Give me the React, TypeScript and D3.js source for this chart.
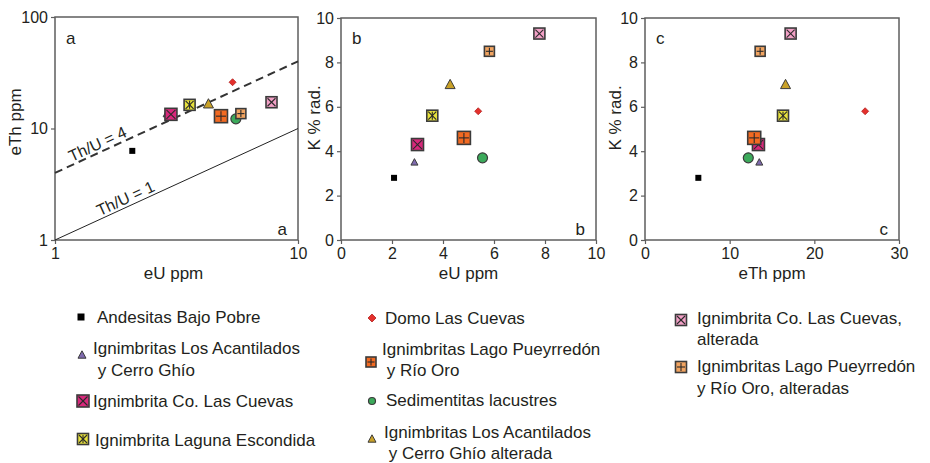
import React, { useRef, useEffect } from 'react'
import * as d3 from 'd3'

// sample groups, in legend order
const groups = [
  ['Andesitas Bajo Pobre'],
  ['Ignimbritas Los Acantilados', ' y Cerro Ghío'],
  ['Ignimbrita Co. Las Cuevas'],
  ['Ignimbrita Laguna Escondida'],
  ['Domo Las Cuevas'],
  ['Ignimbritas Lago Pueyrredón', ' y Río Oro'],
  ['Sedimentitas lacustres'],
  ['Ignimbritas Los Acantilados', ' y Cerro Ghío alterada'],
  ['Ignimbrita Co. Las Cuevas,', 'alterada'],
  ['Ignimbritas Lago Pueyrredón', 'y Río Oro, alteradas']
]

// values
const eU = [2.08, 2.88, 3.0, 3.58, 5.38, 4.82, 5.55, 4.28, 7.78, 5.82]
const eTh = [6.3, 13.5, 13.4, 16.3, 26.0, 12.9, 12.2, 16.6, 17.2, 13.6]
const kRad = [2.8, 3.5, 4.3, 5.6, 5.8, 4.6, 3.7, 7.0, 9.3, 8.5]

const logTicks = [1, 10, 100]
const eUTicks = [0, 2, 4, 6, 8, 10]
const eThTicks = [0, 10, 20, 30]
const kTicks = [0, 2, 4, 6, 8, 10]
const ratios = [4, 1]
const panelLetters = ['a', 'b', 'c']

const ink = '#231f20'
const frame = '#5e5e5e'
const font = "'Liberation Sans', Arial, sans-serif"

const markers = [
  { shape: 'square', fill: '#000000', size: 6, lsize: 7 },
  { shape: 'triangle', fill: '#7f6aae', size: 7, lsize: 8 },
  { shape: 'squareX', fill: '#d8287b', size: 12, lsize: 12 },
  { shape: 'squareStar', fill: '#e8e23c', size: 11, lsize: 11 },
  { shape: 'diamond', fill: '#e4302c', size: 7, lsize: 8 },
  { shape: 'squarePlus', fill: '#f26a22', size: 13, lsize: 10 },
  { shape: 'circle', fill: '#3caa5b', size: 10, lsize: 7 },
  { shape: 'triangle', fill: '#c9a128', size: 10, lsize: 8 },
  { shape: 'squareX', fill: '#f3a0c6', size: 11, lsize: 11 },
  { shape: 'squarePlus', fill: '#f1a461', size: 10, lsize: 11 }
]

// legend placement: marker centre, text start per line and line centres
const legendPos = [
  { mx: 81, my: 317, tx: [97], ty: [317] },
  { mx: 82, my: 355, tx: [93, 93], ty: [348, 370] },
  { mx: 83, my: 401, tx: [93], ty: [401] },
  { mx: 83, my: 439, tx: [95], ty: [440] },
  { mx: 372, my: 318, tx: [385], ty: [318] },
  { mx: 371, my: 362, tx: [382, 382], ty: [349, 370] },
  { mx: 372, my: 401, tx: [386], ty: [400] },
  { mx: 372, my: 439, tx: [384, 384], ty: [432, 453] },
  { mx: 681, my: 320, tx: [697, 697], ty: [318, 339] },
  { mx: 681, my: 367, tx: [697, 697], ty: [366, 388] }
]

function drawMarker(g, m, cx, cy, size) {
  const h = size / 2
  const edge = '#3b3b3b'
  if (m.shape === 'square') {
    g.append('rect').attr('x', cx - h).attr('y', cy - h).attr('width', size).attr('height', size).attr('fill', m.fill)
    return
  }
  if (m.shape === 'triangle') {
    g.append('path')
      .attr('d', `M${cx},${cy - h * 1.05}L${cx + h},${cy + h * 0.8}L${cx - h},${cy + h * 0.8}Z`)
      .attr('fill', m.fill).attr('stroke', edge).attr('stroke-width', 1)
    return
  }
  if (m.shape === 'diamond') {
    g.append('path')
      .attr('d', `M${cx},${cy - h}L${cx + h},${cy}L${cx},${cy + h}L${cx - h},${cy}Z`)
      .attr('fill', m.fill).attr('stroke', '#b3201d').attr('stroke-width', 0.8)
    return
  }
  if (m.shape === 'circle') {
    g.append('circle').attr('cx', cx).attr('cy', cy).attr('r', h)
      .attr('fill', m.fill).attr('stroke', edge).attr('stroke-width', 1.2)
    return
  }
  g.append('rect').attr('x', cx - h).attr('y', cy - h).attr('width', size).attr('height', size)
    .attr('fill', m.fill).attr('stroke', edge).attr('stroke-width', 1.6)
  const i = h - 1.5
  const lines = []
  if (m.shape === 'squareX' || m.shape === 'squareStar') {
    lines.push([cx - i, cy - i, cx + i, cy + i], [cx - i, cy + i, cx + i, cy - i])
  }
  if (m.shape === 'squareStar') lines.push([cx, cy - i, cx, cy + i])
  if (m.shape === 'squarePlus') {
    lines.push([cx, cy - i, cx, cy + i], [cx - i, cy, cx + i, cy])
  }
  lines.forEach((l) => {
    g.append('line').attr('x1', l[0]).attr('y1', l[1]).attr('x2', l[2]).attr('y2', l[3])
      .attr('stroke', '#2a2a2a').attr('stroke-width', 1.1)
  })
}

function styleAxis(a) {
  a.select('.domain').remove()
  a.selectAll('line').attr('stroke', frame).attr('stroke-width', 1.2)
  a.selectAll('text').attr('fill', ink).attr('font-size', 16).attr('font-family', font)
}

export default function App() {
  const canvas = useRef(null)

  useEffect(() => {
    document.body.style.margin = '0'
    const svg = d3.select(canvas.current)
    svg.selectAll('*').remove()

    const top = 18, bottom = 240
    const panels = [
      {
        x: d3.scaleLog().domain([1, 10]).range([55, 298]),
        y: d3.scaleLog().domain([1, 100]).range([bottom, 17]),
        xt: [1, 10], yt: logTicks, xv: eU, yv: eTh,
        xTitle: 'eU ppm', yTitle: 'eTh ppm', yTitleX: 21
      },
      {
        x: d3.scaleLinear().domain([0, 10]).range([341, 596]),
        y: d3.scaleLinear().domain([0, 10]).range([bottom, top]),
        xt: eUTicks, yt: kTicks, xv: eU, yv: kRad,
        xTitle: 'eU ppm', yTitle: 'K % rad.', yTitleX: 320
      },
      {
        x: d3.scaleLinear().domain([0, 30]).range([645, 899]),
        y: d3.scaleLinear().domain([0, 10]).range([bottom, top]),
        xt: eThTicks, yt: kTicks, xv: eTh, yv: kRad,
        xTitle: 'eTh ppm', yTitle: 'K % rad.', yTitleX: 621
      }
    ]

    panels.forEach((p, pi) => {
      const g = svg.append('g')
      const [x0, x1] = p.x.range()
      const [y0, y1] = p.y.range()

      const xa = g.append('g').attr('transform', `translate(0,${y0})`)
        .call(d3.axisBottom(p.x).tickValues(p.xt).tickFormat(d3.format('d')).tickSize(4).tickPadding(4))
      styleAxis(xa)
      const ya = g.append('g').attr('transform', `translate(${x0},0)`)
        .call(d3.axisLeft(p.y).tickValues(p.yt).tickFormat(d3.format('d')).tickSize(4).tickPadding(3))
      styleAxis(ya)

      g.append('rect').attr('x', x0).attr('y', y1).attr('width', x1 - x0).attr('height', y0 - y1)
        .attr('fill', 'none').attr('stroke', frame).attr('stroke-width', 1.5)

      g.append('text').attr('x', (x0 + x1) / 2 - (pi === 0 ? 3 : 0)).attr('y', 279)
        .attr('text-anchor', 'middle').attr('font-size', 17).attr('font-family', font).attr('fill', ink)
        .text(p.xTitle)
      g.append('text').attr('transform', `translate(${p.yTitleX},${pi === 0 ? 122 : 118}) rotate(-90)`)
        .attr('text-anchor', 'middle').attr('font-size', 17).attr('font-family', font).attr('fill', ink)
        .text(p.yTitle)

      g.append('text').attr('x', x0 + 11).attr('y', 44).attr('font-size', 17)
        .attr('font-family', font).attr('fill', ink).text(panelLetters[pi])
      g.append('text').attr('x', x1 - 11).attr('y', 235).attr('text-anchor', 'end').attr('font-size', 17)
        .attr('font-family', font).attr('fill', ink).text(panelLetters[pi])

      if (pi === 0) {
        const ang = Math.atan2(p.y(10) - p.y(1), p.x(10) - p.x(1)) * 180 / Math.PI
        ratios.forEach((r) => {
          g.append('line')
            .attr('x1', p.x(1)).attr('y1', p.y(r))
            .attr('x2', p.x(10)).attr('y2', p.y(r * 10))
            .attr('stroke', r === 1 ? '#222' : '#333')
            .attr('stroke-width', r === 1 ? 1 : 2)
            .attr('stroke-dasharray', r === 1 ? null : '8,5')
          const lx = r === 1 ? 129 : 101
          const u = p.x.invert(lx)
          g.append('text')
            .attr('transform', `translate(${lx},${p.y(r * u)}) rotate(${ang})`)
            .attr('dy', -3).attr('text-anchor', 'middle')
            .attr('font-size', 16).attr('font-family', font).attr('fill', ink)
            .text(`Th/U = ${r}`)
        })
      }

      groups.forEach((_, i) => {
        drawMarker(g, markers[i], p.x(p.xv[i]), p.y(p.yv[i]), markers[i].size)
      })
    })

    const lg = svg.append('g')
    groups.forEach((lines, i) => {
      const pos = legendPos[i]
      drawMarker(lg, markers[i], pos.mx, pos.my, markers[i].lsize)
      lines.forEach((t, j) => {
        lg.append('text').attr('x', pos.tx[j]).attr('y', pos.ty[j]).attr('dy', '0.35em')
          .attr('font-size', 17).attr('font-family', font).attr('fill', ink)
          .attr('xml:space', 'preserve').style('white-space', 'pre')
          .text(t)
      })
    })
  }, [])

  return <svg width="930" height="463" ref={canvas} style={{ display: 'block' }} />
}
